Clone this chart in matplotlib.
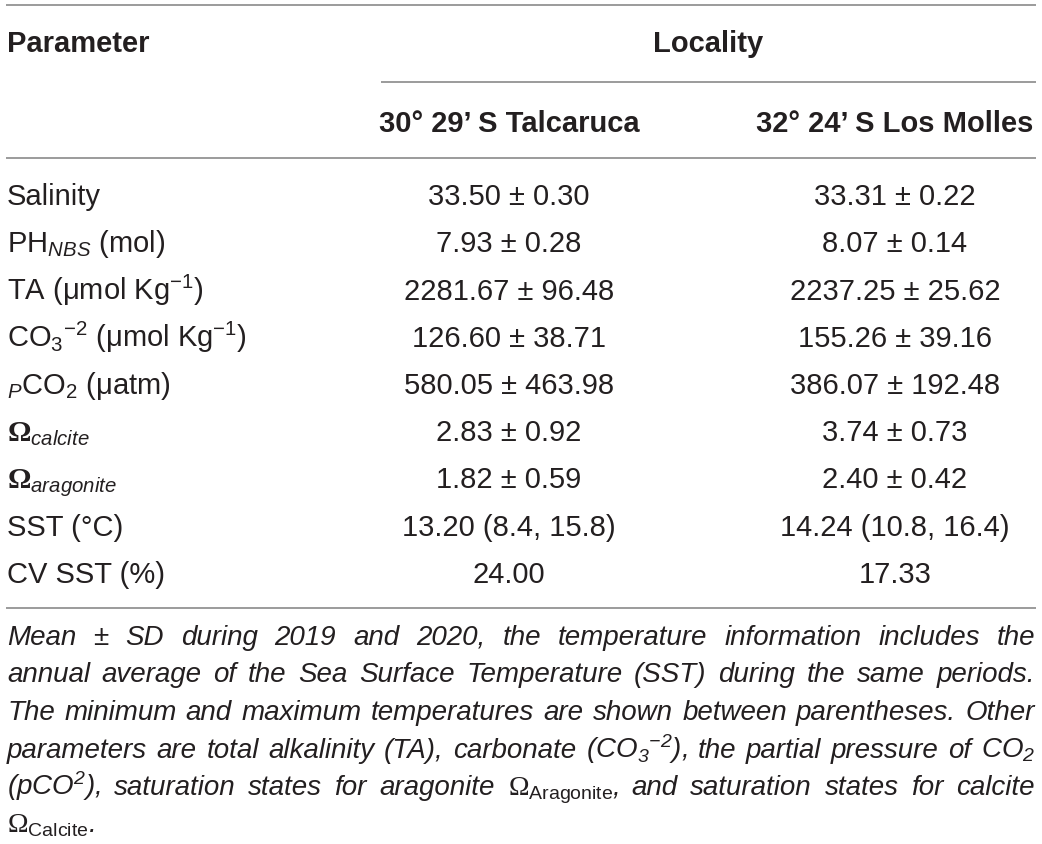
import matplotlib
matplotlib.use("Agg")
import matplotlib.pyplot as plt

plt.rcParams['font.family'] = ['Liberation Sans', 'DejaVu Sans']
plt.rcParams['mathtext.fontset'] = 'custom'
plt.rcParams['mathtext.rm'] = 'Liberation Sans'
plt.rcParams['mathtext.it'] = 'Liberation Sans:italic'
plt.rcParams['mathtext.bf'] = 'Liberation Serif:bold'
plt.rcParams['mathtext.sf'] = 'Liberation Serif'
plt.rcParams['mathtext.default'] = 'regular'

# ---------------- data ----------------
header_param = "Parameter"
header_group = "Locality"
localities = ["30° 29’ S Talcaruca", "32° 24’ S Los Molles"]
parameters = [
    "Salinity",
    r"PH$_{\mathit{NBS}}$ (mol)",
    r"TA (μmol Kg$^{-1}$)",
    r"CO$_3$$^{-2}$ (μmol Kg$^{-1}$)",
    r"$_{\mathit{P}}$CO$_2$ (μatm)",
    r"$\mathbf{\Omega}_{\mathit{calcite}}$",
    r"$\mathbf{\Omega}_{\mathit{aragonite}}$",
    "SST (°C)",
    "CV SST (%)",
]
talcaruca = ["33.50 ± 0.30", "7.93 ± 0.28", "2281.67 ± 96.48", "126.60 ± 38.71",
             "580.05 ± 463.98", "2.83 ± 0.92", "1.82 ± 0.59", "13.20 (8.4, 15.8)", "24.00"]
los_molles = ["33.31 ± 0.22", "8.07 ± 0.14", "2237.25 ± 25.62", "155.26 ± 39.16",
              "386.07 ± 192.48", "3.74 ± 0.73", "2.40 ± 0.42", "14.24 (10.8, 16.4)", "17.33"]
footnote_lines = [
    "Mean ± SD during 2019 and 2020, the temperature information includes the",
    "annual average of the Sea Surface Temperature (SST) during the same periods.",
    "The minimum and maximum temperatures are shown between parentheses. Other",
    r"parameters are total alkalinity (TA), carbonate (CO$_3$$^{-2}$), the partial pressure of CO$_2$",
    r"(pCO$^2$), saturation states for aragonite $\mathsf{\Omega}_{\mathrm{Aragonite}}$, and saturation states for calcite",
    r"$\mathsf{\Omega}_{\mathrm{Calcite}}$.",
]

# ---------------- layout ----------------
W, H = 1042, 844
TXT = '#231f20'
RULE = '#8a8a8a'
fig = plt.figure(figsize=(W / 100, H / 100), dpi=100)
ax = fig.add_axes([0, 0, 1, 1])
ax.set_xlim(0, W)
ax.set_ylim(H, 0)
ax.axis('off')

x_left, x_right = 6, 1036
col_x = [509, 895]
fs = 21

# rules
ax.plot([x_left, x_right], [5, 5], color=RULE, lw=1.2, solid_capstyle='butt')
ax.plot([381, x_right], [82, 82], color=RULE, lw=1.2, solid_capstyle='butt')
ax.plot([x_left, x_right], [158, 158], color=RULE, lw=1.2, solid_capstyle='butt')
ax.plot([x_left, x_right], [608, 608], color=RULE, lw=1.2, solid_capstyle='butt')

# headers
ax.text(7, 52, header_param, fontsize=fs, fontweight='bold', color=TXT, va='baseline', ha='left')
ax.text((381 + x_right) / 2, 52, header_group, fontsize=fs, fontweight='bold', color=TXT,
        va='baseline', ha='center')
for cx, name in zip(col_x, localities):
    ax.text(cx, 132, name, fontsize=fs, fontweight='bold', color=TXT, va='baseline', ha='center')

# body rows
row0, dy = 205, 47.25
for i, (p, a, b) in enumerate(zip(parameters, talcaruca, los_molles)):
    y = row0 + i * dy
    ax.text(7, y, p, fontsize=fs, color=TXT, va='baseline', ha='left')
    ax.text(col_x[0], y, a, fontsize=fs, color=TXT, va='baseline', ha='center')
    ax.text(col_x[1], y, b, fontsize=fs, color=TXT, va='baseline', ha='center')

# footnote, justified
renderer = fig.canvas.get_renderer()
fn_fs = 20
base0, fdy = 645, 37.5
for li, line in enumerate(footnote_lines):
    y = base0 + li * fdy
    words = line.split(' ')
    texts = [ax.text(0, y, w, fontsize=fn_fs, style='italic', color=TXT, va='baseline', ha='left')
             for w in words]
    widths = [t.get_window_extent(renderer).width for t in texts]
    last = li == len(footnote_lines) - 1
    if last or len(words) == 1:
        gap = fn_fs * 100 / 72 * 0.278
    else:
        gap = (x_right - 1 - 7 - sum(widths)) / (len(words) - 1)
    x = 7
    for t, w in zip(texts, widths):
        t.set_x(x)
        x += w + gap

fig.savefig('out.png', dpi=100)
